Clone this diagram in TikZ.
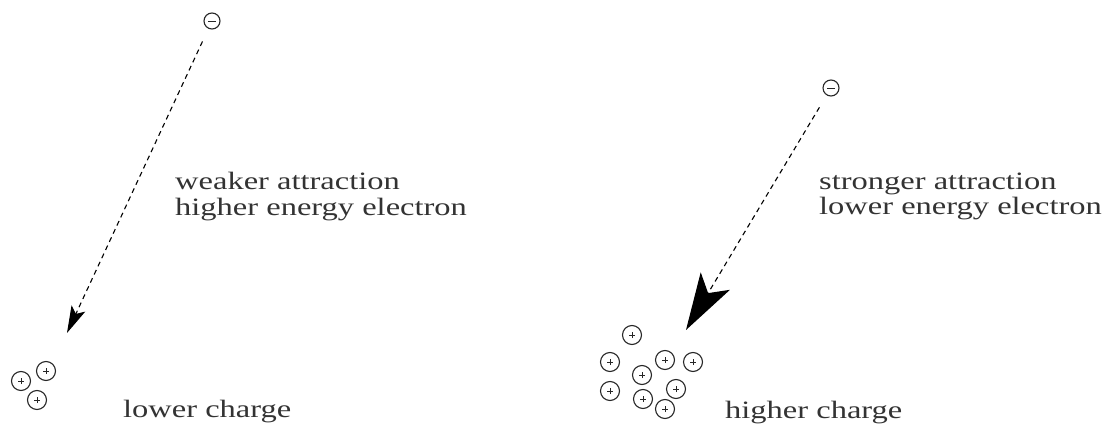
\documentclass[tikz,border=0pt]{standalone}
\usepackage{fontspec}
\setmainfont{Liberation Serif}
\newfontfamily\widefont[FakeStretch=1.3]{Liberation Serif}
\usetikzlibrary{arrows.meta}
\tikzset{
  charge/.style={circle,draw=black!85,line width=1.1pt,minimum size=17pt,inner sep=0pt},
  poscharge/.style={charge,minimum size=19pt,path picture={
      \draw[line width=0.8pt] ([xshift=-3pt]path picture bounding box.center) -- ([xshift=3pt]path picture bounding box.center);
      \draw[line width=0.8pt] ([yshift=-3pt]path picture bounding box.center) -- ([yshift=3pt]path picture bounding box.center);}},
  negcharge/.style={charge,minimum size=16pt,path picture={
      \draw[line width=0.9pt] ([xshift=-4pt]path picture bounding box.center) -- ([xshift=4pt]path picture bounding box.center);}},
  pathline/.style={line width=1.1pt,dash pattern=on 5pt off 4pt,shorten <=14pt},
  lbl/.style={anchor=base west,inner sep=0pt,text=black!80,font=\widefont\fontsize{25}{28}\selectfont}
}
\begin{document}
\begin{tikzpicture}[x=1pt,y=-1pt]
\useasboundingbox (0,0) rectangle (1111,430);
% left
\node[negcharge] (mL) at (212,21) {};
\coordinate (tipL) at (67,333);
\draw[pathline,-{Stealth[length=27pt,width=15pt,inset=6pt]}] (mL) -- (tipL);
\node[poscharge] (pL1) at (21,381) {};
\node[poscharge] (pL2) at (46,371) {};
\node[poscharge] (pL3) at (37,400) {};
\node[lbl] (tL1) at (175,190) {weaker attraction};
\node[lbl] (tL2) at (175,216) {higher energy electron};
\node[lbl] (tL3) at (123,417) {lower charge};
% right
\node[negcharge] (mR) at (831,88) {};
\coordinate (tipR) at (686,330);
\draw[pathline,-{Stealth[length=57pt,width=34pt,inset=14pt]}] (mR) -- (tipR);
\node[poscharge] (p1) at (632,335) {};
\node[poscharge] (p2) at (610,362) {};
\node[poscharge] (p3) at (665,360) {};
\node[poscharge] (p4) at (693,362) {};
\node[poscharge] (p5) at (642,375) {};
\node[poscharge] (p6) at (610,391) {};
\node[poscharge] (p7) at (676,389) {};
\node[poscharge] (p8) at (643,399) {};
\node[poscharge] (p9) at (665,409) {};
\node[lbl] (tR1) at (819,190) {stronger attraction};
\node[lbl] (tR2) at (819,215) {lower energy electron};
\node[lbl] (tR3) at (725,418) {higher charge};
\end{tikzpicture}
\end{document}
